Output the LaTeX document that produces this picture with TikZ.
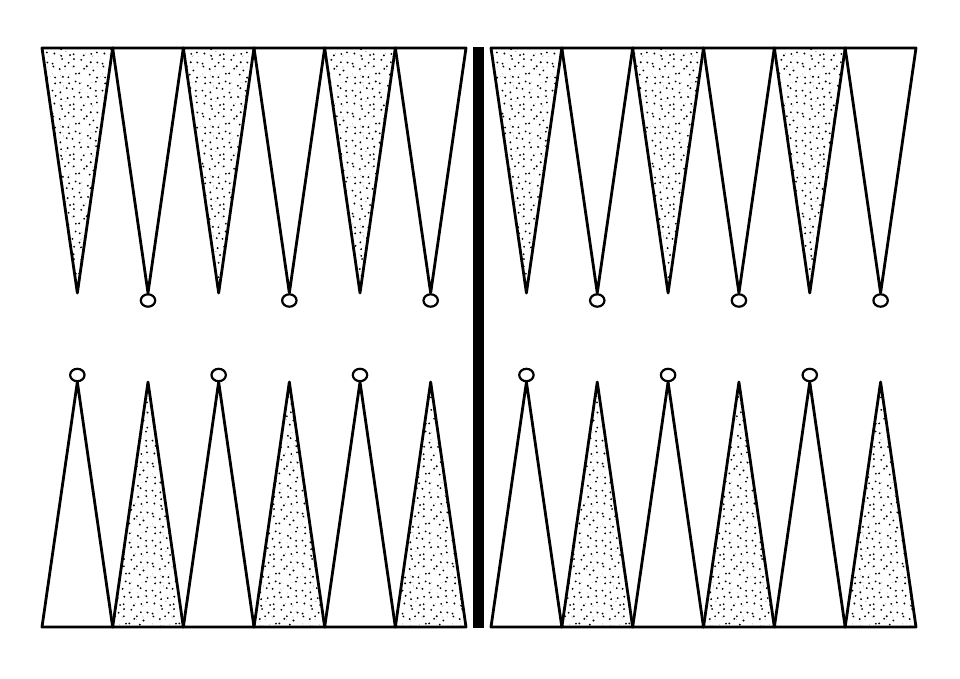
\documentclass[tikz,border=0pt]{standalone}
\usetikzlibrary{patterns}
\pgfmathsetseed{4711}
\pgfdeclarepatternformonly{bigdots}{\pgfpointorigin}{\pgfpoint{50pt}{50pt}}{\pgfpoint{50pt}{50pt}}{%
  \foreach \r in {0,...,6}{%
    \foreach \c in {0,...,6}{%
      \pgfmathsetmacro\px{3.57+\c*7.143+(rnd-0.5)*5.2}%
      \pgfmathsetmacro\py{3.57+\r*7.143+(rnd-0.5)*5.2}%
      \pgfpathcircle{\pgfpoint{\px pt}{\py pt}}{1.05pt}%
    }%
  }%
  \pgfusepath{fill}%
}
\pgfdeclarepatternformonly{finedots}{\pgfpointorigin}{\pgfpoint{50pt}{50pt}}{\pgfpoint{50pt}{50pt}}{%
  \foreach \k in {1,...,45}{%
    \pgfmathsetmacro\px{0.5+rnd*49}%
    \pgfmathsetmacro\py{0.5+rnd*49}%
    \pgfpathcircle{\pgfpoint{\px pt}{\py pt}}{0.45pt}%
  }%
  \pgfusepath{fill}%
}
\begin{document}
\begin{tikzpicture}[x=1pt,y=-1pt,
  edge/.style={draw=black,line width=2.8pt,line join=round},
  stip/.style={pattern=bigdots,pattern color=black},
  stipfine/.style={pattern=finedots,pattern color=black!35},
  checker/.style={draw=black,fill=white,line width=2.2pt}]
\useasboundingbox (0,0) rectangle (960,679);
\foreach \L/\W in {42/424,491/425}{
  \foreach \i in {0,...,5}{
    \pgfmathsetmacro\a{\L+\i*\W/6}
    \pgfmathsetmacro\b{\a+\W/6}
    \pgfmathsetmacro\m{(\a+\b)/2}
    \pgfmathtruncatemacro\odd{mod(\i,2)}
    \ifnum\odd=0
      \fill[stipfine] (\a,48)--(\b,48)--(\m,293)--cycle;
      \fill[stip] (\a,48)--(\b,48)--(\m,293)--cycle;
    \else
      \fill[stipfine] (\a,627)--(\b,627)--(\m,382)--cycle;
      \fill[stip] (\a,627)--(\b,627)--(\m,382)--cycle;
    \fi
    \draw[edge] (\a,48)--(\b,48)--(\m,293)--cycle;
    \draw[edge] (\a,627)--(\b,627)--(\m,382)--cycle;
    \ifnum\odd=0
      \draw[checker] (\m,375) ellipse [x radius=7.2,y radius=6.2];
    \else
      \draw[checker] (\m,300.5) ellipse [x radius=7.2,y radius=6.2];
    \fi
  }
}
\fill[black] (473,47) rectangle (484,628);
\end{tikzpicture}
\end{document}
